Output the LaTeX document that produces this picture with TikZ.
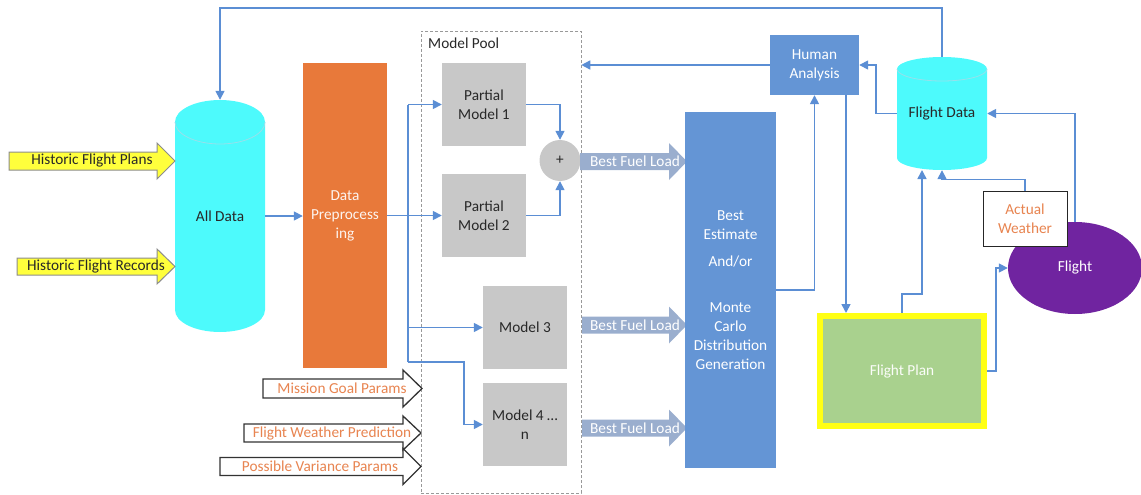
\documentclass[tikz,border=0pt]{standalone}
\usepackage{fontspec}
\setmainfont{Carlito}
\usetikzlibrary{arrows.meta,shapes.geometric,calc}
\definecolor{linec}{RGB}{91,142,212}
\definecolor{boxblue}{RGB}{100,149,213}
\definecolor{grayb}{RGB}{200,200,200}
\definecolor{orangeb}{RGB}{232,121,58}
\definecolor{txtorange}{RGB}{232,132,80}
\definecolor{fuelc}{RGB}{154,174,206}
\definecolor{purplec}{RGB}{112,36,160}
\definecolor{greenc}{RGB}{169,209,142}
\definecolor{yellowb}{RGB}{255,255,20}
\definecolor{yellowa}{RGB}{255,255,60}
\definecolor{cyanc}{RGB}{77,250,252}
\definecolor{rimc}{RGB}{150,225,235}
\definecolor{darktxt}{RGB}{40,40,40}
\newcommand{\blockarr}[7]{%
  \draw[#1] (#2,#5-#6) -- (#3,#5-#6) -- (#3,#5-#7) -- (#4,#5) -- (#3,#5+#7) -- (#3,#5+#6) -- (#2,#5+#6) -- cycle;}
\begin{document}
\begin{tikzpicture}[x=1pt,y=-1pt,
  font=\fontsize{15.3}{19}\selectfont,
  conn/.style={draw=linec, line width=1.6pt, -{Triangle[length=9pt,width=9pt]}},
  plainline/.style={draw=linec, line width=1.6pt},
  graybox/.style={fill=grayb, align=center, text=darktxt, inner sep=0pt},
  bluebox/.style={fill=boxblue, align=center, text=white, inner sep=0pt},
  ghost/.style={inner sep=0pt, align=center},
  yarrow/.style={fill=yellowa, draw=black!45, line width=1pt},
  warrow/.style={fill=white, draw=black!80, line width=1.3pt},
  farrow/.style={fill=fuelc, draw=none},
  cyl/.style={fill=cyanc},
  rim/.style={draw=rimc, line width=0.8pt},
]
\useasboundingbox (0,0) rectangle (1141,495);

% ---- All Data cylinder
\fill[cyl] (175,122) -- (175,310) arc[start angle=180, end angle=360, x radius=45pt, y radius=22pt]
  -- (265,122) arc[start angle=0, end angle=180, x radius=45pt, y radius=22pt] -- cycle;
\draw[rim] (175,122) arc[start angle=180, end angle=360, x radius=45pt, y radius=22pt];
\node[ghost, minimum width=90pt, minimum height=232pt, text=darktxt] (alldata) at (220,216) {All Data};

% ---- Flight Data cylinder
\fill[cyl] (897,69) -- (897,158) arc[start angle=180, end angle=360, x radius=45pt, y radius=12pt]
  -- (987,69) arc[start angle=0, end angle=180, x radius=45pt, y radius=12pt] -- cycle;
\draw[rim] (897,69) arc[start angle=180, end angle=360, x radius=45pt, y radius=12pt];
\node[ghost, minimum width=90pt, minimum height=113pt, text=darktxt] (fdata) at (942,113.5) {Flight Data};

% ---- Historic input arrows
\blockarr{yarrow}{9}{157}{175}{161}{9}{18}
\node[ghost, text=darktxt] (hfp) at (92,161) {Historic Flight Plans};
\blockarr{yarrow}{17}{157}{175}{266.5}{8.5}{17.5}
\node[ghost, text=darktxt] (hfr) at (96,266.5) {Historic Flight Records};

% ---- Preprocessing
\node[fill=orangeb, text=white!92!orangeb, align=center, inner sep=0pt,
  minimum width=84pt, minimum height=305pt] (prep) at (345,215.5) {Data\\Preprocess\\ing};

% ---- Model pool
\node[draw=black!40, dash pattern=on 3pt off 2pt, line width=0.6pt,
  minimum width=160pt, minimum height=462pt, inner sep=0pt] (pool) at (501,262) {};
\node[anchor=north west, inner sep=0pt, text=darktxt] (poollbl) at (428,38) {Model Pool};

\node[graybox, minimum width=84pt, minimum height=83pt] (pm1) at (484,104.5) {Partial\\Model 1};
\node[graybox, minimum width=84pt, minimum height=83pt] (pm2) at (484,215.5) {Partial\\Model 2};
\node[graybox, minimum width=84pt, minimum height=83pt] (m3) at (525,327.5) {Model 3};
\node[graybox, minimum width=84pt, minimum height=83pt] (m4) at (525,424.5) {Model 4 …\\n};
\node[circle, fill=grayb, minimum size=41pt, inner sep=0pt, text=darktxt] (plus) at (560,160.5) {+};

% ---- Parameter input arrows
\blockarr{warrow}{263}{403}{422}{388.5}{9.5}{18.5}
\node[ghost, text=txtorange] (mgp) at (342,388.5) {Mission Goal Params};
\blockarr{warrow}{244}{403}{421}{433}{9}{17}
\node[ghost, text=txtorange] (fwp) at (332,433) {Flight Weather Prediction};
\blockarr{warrow}{220}{403}{421}{466.5}{9}{18}
\node[ghost, text=txtorange] (pvp) at (320,466.5) {Possible Variance Params};

% ---- Best fuel load arrows
\blockarr{farrow}{580}{669}{687}{161.5}{8.5}{18.5}
\node[ghost, text=white] (bfl1) at (635,161.5) {Best Fuel Load};
\blockarr{farrow}{582}{669}{687}{325}{8.5}{18.5}
\node[ghost, text=white] (bfl2) at (635,325) {Best Fuel Load};
\blockarr{farrow}{582}{669}{687}{428}{8.5}{18.5}
\node[ghost, text=white] (bfl3) at (635,428) {Best Fuel Load};

% ---- Best estimate
\node[bluebox, minimum width=91pt, minimum height=356pt] (best) at (730.5,290)
  {Best\\Estimate\\[8pt]And/or\\[27pt]Monte\\Carlo\\Distribution\\Generation};

% ---- Human analysis
\node[bluebox, minimum width=89pt, minimum height=60pt] (ha) at (814.5,65) {Human\\Analysis};

% ---- Flight plan
\node[fill=greenc, draw=yellowb, line width=6pt, minimum width=164pt, minimum height=110pt,
  text=white!95!greenc, inner sep=0pt] (fplan) at (902,371) {Flight Plan};

% ---- Flight
\node[ellipse, fill=purplec, minimum width=134pt, minimum height=92pt, inner sep=0pt, text=white] (flight) at (1075,268) {Flight};
\node[fill=white, draw=black!85, line width=1pt, minimum width=84pt, minimum height=55pt,
  align=center, inner sep=0pt, text=txtorange] (aw) at (1025,218.5) {Actual\\Weather};

% ---- Connectors
\coordinate (bt) at (408,104.5);
\coordinate (bb) at (408,362);
\coordinate (b3) at (408,327.5);
\coordinate (b4) at (464,362);
\coordinate (hax) at (846,95);
\coordinate (topy) at (942,8);

\draw[conn] (alldata.east) -- (alldata.east -| prep.west);
\draw[conn] (prep.east) -- (pm2.west);
\draw[plainline] (bb) -- (bt);
\draw[conn] (bt) -- (pm1.west);
\draw[conn] (b3) -- (m3.west);
\draw[conn] (bb) -- (b4) |- (m4.west);
\draw[conn] (pm1.east) -| (plus.north);
\draw[conn] (pm2.east) -| (plus.south);
\draw[conn] (ha.west) -- (ha.west -| pool.east);
\draw[conn] (best.east) -| (ha.south);
\draw[conn] (hax) -- (hax |- fplan.north);
\draw[conn] (fdata.west) -- ++(-21,0) |- (ha.east);
\draw[conn] (fdata.north) -- (topy) -| (alldata.north);
\draw[conn] (fplan.north) -- ++(0,-19) -- ++(20,0) -- ++(0,-124);
\draw[conn] (aw.north) -- ++(0,-11) -| (fdata.south);
\draw[conn] (flight.north) |- (fdata.east);
\draw[conn] (fplan.east) -- ++(9,0) |- (flight.west);
\end{tikzpicture}
\end{document}
